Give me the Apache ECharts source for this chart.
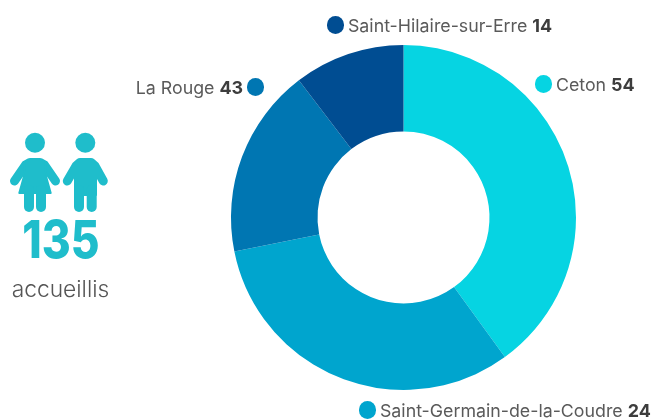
<!DOCTYPE html>
<html><head><meta charset="utf-8">
<style>html,body{margin:0;padding:0;background:#fff}#c{width:655px;height:419px}</style>
<script src="https://cdn.jsdelivr.net/npm/echarts@6/dist/echarts.min.js"></script>
</head><body><div id="c"></div>
<script>
const sliceValues = [54, 43, 24, 14];
const sliceColors = ['#06d4e2', '#00a5ce', '#0076b2', '#004d92'];
const labelNames = ['Ceton', 'Saint-Germain-de-la-Coudre', 'La Rouge', 'Saint-Hilaire-sur-Erre'];
const labelValues = [54, 24, 43, 14];
const total = '135';
const totalCaption = 'accueillis';

const FONT = 'Inter, "Noto Sans", sans-serif';
const TEAL = '#1fbdcb';
// label anchor: [x, y, align, dot placed after the text]
const anchors = [[535, 84, 'left', false], [359, 410, 'left', false], [264, 87, 'right', true], [327, 25, 'left', false]];

const chart = echarts.init(document.getElementById('c'), null, {renderer: 'canvas'});
const rich = {
  n: {fontFamily: FONT, fontSize: 17.8, color: '#5a5a5a', fontWeight: 400, padding: [3, 0, 0, 0]},
  v: {fontFamily: FONT, fontSize: 17.9, color: '#3d3d3d', fontWeight: 700, padding: [3, 0, 0, 0]},
  s: {fontFamily: FONT, fontSize: 14}
};
sliceColors.forEach((c, i) => {
  rich['d' + i] = {width: 17, height: 18, borderRadius: 9, backgroundColor: c};
});
const stroke = w => ({stroke: TEAL, lineWidth: w, lineCap: 'round', lineJoin: 'round', fill: null});
const fill = {fill: TEAL, stroke: TEAL, lineWidth: 2, lineJoin: 'round'};
chart.setOption({
  animation: false,
  series: [{
    type: 'pie',
    silent: true,
    center: [403.5, 217.5],
    radius: [86, 172.5],
    startAngle: 90,
    clockwise: true,
    itemStyle: {borderWidth: 0},
    labelLine: {show: false},
    label: {
      show: true,
      position: 'outside',
      overflow: 'none',
      width: 400,
      rich,
      formatter: p => {
        const i = p.dataIndex;
        const t = '{n|' + labelNames[i] + ' }{v|' + labelValues[i] + '}';
        const d = '{d' + i + '|}';
        return anchors[i][3] ? t + '{s| }' + d : d + '{s| }' + t;
      }
    },
    labelLayout: p => {
      const a = anchors[p.dataIndex];
      return {x: a[0], y: a[1], align: a[2], verticalAlign: 'middle', hideOverlap: false, moveOverlap: false};
    },
    data: sliceValues.map((v, i) => ({value: v, name: labelNames[i], itemStyle: {color: sliceColors[i]}}))
  }],
  graphic: [
    {type: 'circle', shape: {cx: 35, cy: 142.7, r: 10}, style: {fill: TEAL}},
    {type: 'polyline', shape: {points: [[14.5, 181], [25.5, 165], [30, 162.5], [40, 162.5], [44.5, 165], [55.5, 181]]}, style: stroke(9)},
    {type: 'polygon', shape: {points: [[25, 163], [45, 163], [46.5, 178], [50.7, 193], [19.3, 193], [23.5, 178]]}, style: fill},
    {type: 'line', shape: {x1: 29, y1: 190, x2: 29, y2: 207}, style: stroke(10)},
    {type: 'line', shape: {x1: 41, y1: 190, x2: 41, y2: 207}, style: stroke(10)},
    {type: 'circle', shape: {cx: 85.3, cy: 142.7, r: 10}, style: {fill: TEAL}},
    {type: 'polyline', shape: {points: [[67.3, 181], [76, 166], [80, 162.5], [91, 162.5], [95, 166], [103.3, 181]]}, style: stroke(9)},
    {type: 'polygon', shape: {points: [[75, 163], [96, 163], [96, 195], [75, 195]]}, style: fill},
    {type: 'line', shape: {x1: 79, y1: 190, x2: 79, y2: 207}, style: stroke(10)},
    {type: 'line', shape: {x1: 91.7, y1: 190, x2: 91.7, y2: 207}, style: stroke(10)},
    {type: 'text', x: 61, y: 242.5, scaleX: 0.85, style: {text: total, fontFamily: FONT, fontSize: 52, fontWeight: 800, fill: TEAL, textAlign: 'center', textVerticalAlign: 'middle'}},
    {type: 'text', x: 60.5, y: 290, style: {text: totalCaption, fontFamily: FONT, fontSize: 22.8, fontWeight: 300, fill: '#555', textAlign: 'center', textVerticalAlign: 'middle'}}
  ]
});
</script></body></html>
